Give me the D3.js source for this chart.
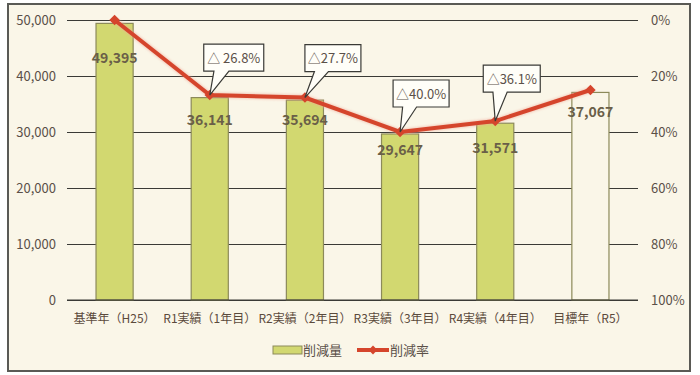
<!DOCTYPE html>
<html><head><meta charset="utf-8">
<script src="https://cdn.jsdelivr.net/npm/d3@7"></script>
<style>body{margin:0;background:#fff}svg{display:block}</style>
</head><body><svg id="c" width="700" height="375"></svg>
<script>
const categories = ["基準年（H25）","R1実績（1年目）","R2実績（2年目）","R3実績（3年目）","R4実績（4年目）","目標年（R5）"];
const amounts = [49395, 36141, 35694, 29647, 31571, 37067];
const rates = [0, 26.8, 27.7, 40.0, 36.1, 25.0];
const calloutTexts = [null, "△ 26.8%", "△27.7%", "△40.0%", "△36.1%", null];
const leftTicks = [0, 10000, 20000, 30000, 40000, 50000];
const rightTicks = [0, 20, 40, 60, 80, 100];
const seriesNames = ["削減量", "削減率"];

// layout (not data)
const labelDy = [40, 27, 25, 21, 30, 25];
const calloutBox = [null, {dx:-6,dy:-51,w:60}, {dx:0,dy:-53,w:56}, {dx:-7,dy:-52,w:56}, {dx:-12,dy:-56,w:57}, null];

const svg = d3.select("#c");
const font = "'Noto Sans CJK JP','Noto Sans',sans-serif";
svg.append("rect").attr("x",8).attr("y",4).attr("width",682).attr("height",367)
  .attr("fill","#faf6e8").attr("stroke","#5a5a55").attr("stroke-width",2);

const L=67,R=638,T=20,B=300;
const x = d3.scaleBand().domain(categories).range([L,R]).paddingInner(0.61).paddingOuter(0.305);
const y = d3.scaleLinear().domain([0,50000]).range([B,T]);
const y2 = d3.scaleLinear().domain([0,100]).range([T,B]);

// gridlines
const gAx = svg.append("g").attr("transform",`translate(${L},0)`)
  .call(d3.axisLeft(y).tickValues(leftTicks).tickSize(-(R-L)).tickPadding(11).tickFormat(d3.format(",")));
gAx.select(".domain").remove();
gAx.selectAll(".tick line").attr("stroke","#3a3a36").attr("stroke-width",1);
gAx.selectAll(".tick text").attr("font-family",font).attr("font-size",13).attr("fill","#5b5048");

const gR = svg.append("g").attr("transform",`translate(${R},0)`)
  .call(d3.axisRight(y2).tickValues(rightTicks).tickSize(0).tickPadding(13).tickFormat(d=>d+"%"));
gR.select(".domain").remove();
gR.selectAll(".tick text").attr("font-family",font).attr("font-size",13).attr("fill","#5b5048");

// bars
const data = categories.map((c,i)=>({c,v:amounts[i],r:rates[i],i}));
svg.append("g").selectAll("rect").data(data).join("rect")
  .attr("x",d=>x(d.c)).attr("y",d=>y(d.v)).attr("width",x.bandwidth()).attr("height",d=>B-y(d.v))
  .attr("fill",d=>d.i===5?"#faf6e8":"#d2d870").attr("stroke","#8c8a5a").attr("stroke-width",1.2);

// x axis
const gX = svg.append("g").attr("transform",`translate(0,${B})`)
  .call(d3.axisBottom(x).tickSize(0).tickPadding(14));
gX.select(".domain").attr("stroke","#3a3a36").attr("stroke-width",1.2).attr("d",`M${L},0H${R}`);
gX.selectAll(".tick text").attr("font-family",font).attr("font-size",12).attr("fill","#5b4a3c");

// value labels
svg.append("g").selectAll("text").data(data).join("text")
  .attr("x",d=>x(d.c)+x.bandwidth()/2).attr("y",d=>y(d.v)+labelDy[d.i])
  .attr("text-anchor","middle").attr("font-family",font).attr("font-weight","bold")
  .attr("font-size",14).attr("fill","#6a5f48").text(d=>d3.format(",")(d.v));

// line
const cx = d=>x(d.c)+x.bandwidth()/2;
const line = d3.line().x(cx).y(d=>y2(d.r));
const defs = svg.append("defs");
defs.append("filter").attr("id","glow").attr("x","-10%").attr("y","-10%").attr("width","120%").attr("height","120%")
  .append("feGaussianBlur").attr("stdDeviation",1.2);
svg.append("path").datum(data).attr("d",line).attr("fill","none").attr("stroke","#f0a898")
  .attr("stroke-width",6).attr("filter","url(#glow)").attr("opacity",0.5);
svg.append("path").datum(data).attr("d",line).attr("fill","none").attr("stroke","#d5452c").attr("stroke-width",4);
svg.append("g").selectAll("path").data(data).join("path")
  .attr("d",d3.symbol(d3.symbolDiamond2,70))
  .attr("transform",d=>`translate(${cx(d)},${y2(d.r)})`).attr("fill","#d5452c");

// callouts
const cg = svg.append("g");
data.forEach(d=>{
  const t = calloutTexts[d.i]; if(!t) return;
  const b = calloutBox[d.i];
  const px = cx(d), py = y2(d.r);
  const bx = px+b.dx, by = py+b.dy, bw=b.w, bh=27;
  const p1 = bx+bw*0.17, p2 = bx+bw*0.42;
  const path = `M${bx},${by}H${bx+bw}V${by+bh}H${p2}L${px},${py}L${p1},${by+bh}H${bx}Z`;
  cg.append("path").attr("d",path).attr("fill","#fffef8").attr("stroke","#3a3a36").attr("stroke-width",1.2);
  cg.append("text").attr("x",bx+bw/2).attr("y",by+bh/2+5).attr("text-anchor","middle")
    .attr("font-family",font).attr("font-size",13).attr("fill","#5b5048").text(t);
});

// legend
const lg = svg.append("g");
lg.append("rect").attr("x",273).attr("y",346).attr("width",29).attr("height",8)
  .attr("fill","#d2d870").attr("stroke","#8c8a5a").attr("stroke-width",1);
lg.append("text").attr("x",303).attr("y",355).attr("font-family",font).attr("font-size",13).attr("fill","#5b5048").text(seriesNames[0]);
lg.append("line").attr("x1",357).attr("x2",389).attr("y1",350).attr("y2",350).attr("stroke","#d5452c").attr("stroke-width",4);
lg.append("path").attr("d",d3.symbol(d3.symbolDiamond2,50)).attr("transform","translate(373,350)").attr("fill","#d5452c");
lg.append("text").attr("x",390).attr("y",355).attr("font-family",font).attr("font-size",13).attr("fill","#5b5048").text(seriesNames[1]);
</script></body></html>
